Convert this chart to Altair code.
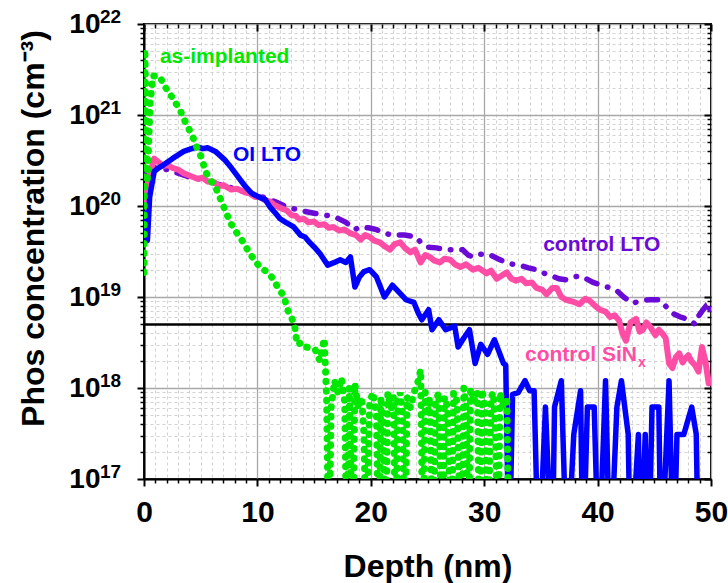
import altair as alt
import pandas as pd

FONT = "Liberation Sans"

# ---------------- data (depth in nm, concentration as log10 of cm^-3) ----------------
green_x = [0.0, 0.08, 0.3, 0.55, 0.8, 1.4, 1.8, 2.3, 2.8, 3.2, 3.5, 3.9, 4.3, 4.6, 5.0, 5.5, 6.0,
           6.4, 7.0, 7.6, 8.1, 8.5, 9.0, 9.3, 9.8, 10.2, 10.8, 11.4, 11.9, 12.3, 12.7, 13.0, 13.3,
           13.5, 14.0, 14.3, 14.7, 15.1, 15.5, 15.9, 16.1, 16.3, 16.5, 16.8, 17.1, 17.4, 17.7, 17.9,
           18.1, 18.4, 18.6, 18.9, 19.2, 19.4, 19.6, 19.9, 20.2, 20.5, 20.7, 20.9, 21.1, 21.3, 21.5,
           21.8, 22.0, 22.2, 22.4, 22.6, 22.8, 23.0, 23.2, 23.5, 23.8, 24.1, 24.4, 24.6, 24.8, 25.0,
           25.2, 25.5, 25.7, 26.0, 26.3, 26.5, 26.8, 27.1, 27.3, 27.6, 28.0, 28.2, 28.4, 28.6, 28.8,
           29.1, 29.4, 29.6, 29.8, 30.1, 30.3, 30.6, 30.8, 31.0, 31.2, 31.4, 31.7, 32.0, 32.2]
green_log = [19.27, 21.72, 20.3, 21.15, 21.43, 21.42, 21.32, 21.23, 21.13, 21.05, 20.96, 20.86, 20.76,
             20.66, 20.55, 20.36, 20.26, 20.18, 20.0, 19.82, 19.72, 19.65, 19.55, 19.48, 19.4, 19.33,
             19.28, 19.2, 19.08, 19.02, 18.85, 18.78, 18.67, 18.48, 18.5, 18.45, 18.44, 18.42, 18.3,
             18.54, 17.9, 16.0, 17.78, 18.08, 17.95, 18.11, 17.85, 16.0, 18.0, 16.0, 18.04, 17.78,
             17.9, 17.48, 16.0, 17.85, 17.95, 17.7, 16.0, 17.9, 17.6, 16.0, 17.95, 17.78, 17.9, 16.0,
             17.85, 17.95, 17.7, 16.0, 17.9, 17.78, 17.95, 18.04, 18.2, 16.0, 17.95, 17.7, 17.9, 16.0,
             17.85, 17.95, 16.0, 17.9, 17.78, 16.0, 17.95, 17.85, 16.0, 18.0, 17.78, 16.0, 18.0, 17.85,
             17.95, 16.0, 17.98, 17.78, 16.0, 17.9, 17.95, 17.6, 16.0, 17.95, 17.78, 17.9, 16.0]

blue_x = [0.05, 0.3, 0.5, 0.9, 1.3, 1.7, 2.5, 3.5, 4.2, 4.7, 5.2, 5.6, 6.3, 7.1, 7.7, 8.3, 8.9, 9.5,
          10.1, 10.7, 11.1, 11.6, 12.0, 12.5, 13.2, 13.8, 14.2, 14.6, 15.0, 15.5, 16.2, 16.8, 17.3,
          17.8, 18.2, 18.6, 19.0, 19.4, 19.9, 20.5, 21.2, 21.9, 22.5, 23.1, 23.8, 24.2, 24.5, 25.1,
          25.4, 26.0, 26.6, 27.4, 27.7, 28.2, 28.7, 29.2, 29.7, 30.3, 30.9, 31.3, 31.7, 31.9, 32.2,
          32.5, 33.0, 33.6, 34.0, 34.4, 34.8, 35.4, 36.0, 36.2, 36.8, 37.3, 37.9, 38.5, 38.7, 39.1,
          39.7, 40.1, 40.7, 41.1, 41.7, 42.1, 42.7, 42.9, 43.6, 43.8, 44.2, 44.5, 44.8, 45.4, 45.6,
          46.3, 46.7, 47.0, 47.6, 48.3, 48.7, 48.9]
blue_log = [19.95, 19.62, 20.1, 20.38, 20.42, 20.45, 20.52, 20.6, 20.63, 20.65, 20.63, 20.64, 20.6,
            20.51, 20.42, 20.32, 20.22, 20.14, 20.1, 20.07, 19.99, 19.92, 19.86, 19.82, 19.77, 19.68,
            19.66, 19.6, 19.55, 19.48, 19.35, 19.38, 19.41, 19.38, 19.44, 19.11, 19.22, 19.28, 19.3,
            19.22, 19.0, 19.13, 19.05, 18.97, 18.94, 18.82, 18.75, 18.86, 18.64, 18.75, 18.64, 18.68,
            18.45, 18.55, 18.64, 18.27, 18.48, 18.37, 18.53, 18.4, 18.27, 18.25, 16.0, 17.93, 17.95,
            18.08, 17.97, 17.97, 16.0, 17.79, 16.0, 17.79, 18.08, 16.0, 17.49, 17.97, 16.0, 17.79,
            17.79, 16.0, 18.08, 16.0, 17.79, 18.08, 17.49, 16.0, 17.49, 16.0, 17.49, 16.0, 17.79,
            17.79, 16.0, 18.08, 16.0, 17.49, 17.49, 17.79, 17.49, 16.0]

pink_x = [0.0, 0.4, 0.9, 1.3, 1.7, 2.1, 2.5, 3.0, 3.5, 4.1, 4.7, 5.2, 5.6, 6.2, 6.6, 7.0, 7.7, 8.2,
          8.9, 9.3, 9.8, 10.2, 10.7, 11.1, 11.5, 12.2, 12.6, 13.0, 13.4, 13.7, 14.1, 14.5, 15.0,
          15.4, 15.9, 16.3, 16.7, 17.2, 17.7, 18.2, 18.7, 19.1, 19.5, 19.9, 20.3, 20.8, 21.2, 21.7,
          22.1, 22.6, 23.0, 23.5, 23.9, 24.4, 24.8, 25.2, 25.6, 26.1, 26.5, 27.0, 27.4, 27.9, 28.4,
          29.0, 29.5, 30.2, 30.6, 31.1, 31.6, 32.0, 32.4, 32.8, 33.3, 33.7, 34.2, 34.6, 35.1, 35.5,
          36.0, 36.4, 36.8, 37.2, 37.8, 38.4, 38.9, 39.3, 39.8, 40.2, 40.7, 41.1, 41.5, 41.9, 42.2,
          42.5, 42.9, 43.4, 43.7, 44.0, 44.3, 44.6, 45.1, 45.4, 45.7, 46.0, 46.3, 46.6, 46.9, 47.2,
          47.5, 47.7, 48.0, 48.3, 48.6, 48.9, 49.2, 49.5, 49.8, 50.0]
pink_log = [20.0, 20.3, 20.52, 20.48, 20.44, 20.45, 20.42, 20.4, 20.36, 20.33, 20.3, 20.31, 20.27,
            20.26, 20.22, 20.23, 20.18, 20.19, 20.15, 20.14, 20.1, 20.1, 20.06, 20.05, 20.01, 19.97,
            19.95, 19.9, 19.89, 19.85, 19.86, 19.82, 19.83, 19.79, 19.8, 19.76, 19.77, 19.73, 19.74,
            19.7, 19.68, 19.63, 19.68, 19.66, 19.62, 19.6, 19.56, 19.52, 19.58, 19.6, 19.54, 19.49,
            19.52, 19.38, 19.46, 19.44, 19.4, 19.38, 19.42, 19.41, 19.36, 19.33, 19.36, 19.3, 19.32,
            19.26, 19.29, 19.2, 19.24, 19.27, 19.2, 19.18, 19.2, 19.15, 19.16, 19.1, 19.08, 19.03,
            19.1, 19.1, 19.0, 18.97, 18.95, 18.92, 18.98, 18.96, 18.9, 18.86, 18.84, 18.78, 18.8,
            18.74, 18.6, 18.52, 18.72, 18.76, 18.62, 18.64, 18.72, 18.68, 18.58, 18.64, 18.6, 18.55,
            18.27, 18.22, 18.34, 18.38, 18.28, 18.32, 18.36, 18.29, 18.25, 18.18, 18.45, 18.3, 18.05,
            18.1]

purple_x = [0.2, 1.0, 2.0, 3.0, 4.0, 5.5, 6.5, 7.7, 9.0, 10.7, 11.7, 12.6, 13.8, 15.0, 16.0, 17.0,
            17.8, 18.6, 19.0, 19.8, 20.5, 21.2, 21.9, 23.0, 24.0, 24.4, 24.9, 25.8, 26.6, 27.4, 28.1,
            28.6, 29.0, 29.6, 30.4, 31.2, 31.9, 32.5, 33.1, 33.9, 34.6, 35.3, 36.0, 36.6, 37.2, 37.8,
            38.4, 39.0, 39.6, 40.6, 41.6, 42.3, 43.1, 43.8, 44.6, 45.5, 46.0, 46.6, 47.3, 48.1, 48.6,
            48.9, 49.3, 49.5, 49.8, 50.0]
purple_log = [20.35, 20.42, 20.4, 20.36, 20.32, 20.28, 20.24, 20.2, 20.15, 20.09, 20.04, 19.99, 19.95,
              19.92, 19.9, 19.87, 19.82, 19.74, 19.77, 19.76, 19.74, 19.7, 19.68, 19.68, 19.66, 19.6,
              19.55, 19.54, 19.52, 19.52, 19.52, 19.46, 19.44, 19.47, 19.47, 19.42, 19.38, 19.36,
              19.35, 19.32, 19.3, 19.26, 19.23, 19.2, 19.19, 19.22, 19.23, 19.2, 19.16, 19.12, 19.08,
              19.0, 18.93, 18.96, 18.97, 18.97, 18.9, 18.82, 18.78, 18.75, 18.7, 18.79, 18.86, 18.89,
              18.82, 18.9]

threshold = [5e18]

ann_text = ["as-implanted", "OI LTO", "control LTO", "control SiN"]
ann_x = [1.4, 7.85, 35.2, 33.6]
ann_y = [4.3e21, 3.6e20, 3.7e19, 2.3e18]
ann_color = ["#00E800", "#0000FF", "#6A0AD6", "#FF4DA6"]

sub_text = ["x"]
sub_x = [33.6]
sub_y = [2.3e18]

major_x = [0, 10, 20, 30, 40, 50]
minor_x = [i for i in range(1, 50) if i % 10]
exps = [17, 18, 19, 20, 21, 22]
major_y = [10.0 ** e for e in exps]
minor_y = [m * 10.0 ** e for e in range(17, 22) for m in range(2, 10)]

C_GREEN, C_BLUE, C_PINK, C_PURPLE = "#00E800", "#0000FF", "#FF4DA6", "#6A0AD6"


def series(xs, logs):
    return pd.DataFrame({"depth": xs, "conc": [10.0 ** v for v in logs]})


xscale = alt.Scale(domain=[0, 50], nice=False, zero=False)
yscale = alt.Scale(type="log", domain=[1e17, 1e22], nice=False)

# ---------------- axes ----------------
ax_x_main = alt.Axis(orient="bottom", values=major_x, format="d", tickSize=7, tickWidth=2,
                     tickColor="black", domain=True, domainColor="black", domainWidth=2,
                     labelFont=FONT, labelFontSize=30, labelFontWeight="bold", labelColor="black",
                     labelPadding=11, labelFlush=False, grid=True, gridColor="#a8a8a8", gridWidth=1.3,
                     title="Depth (nm)", titleFont=FONT, titleFontSize=32, titleFontWeight="bold",
                     titleColor="black", titleY=87, titleBaseline="middle")
ax_y_main = alt.Axis(orient="left", values=major_y, labelExpr="'10'", tickSize=7, tickWidth=2,
                     tickColor="black", domain=True, domainColor="black", domainWidth=2,
                     labelFont=FONT, labelFontSize=28, labelFontWeight="bold", labelColor="black",
                     labelPadding=37, grid=True, gridColor="#a8a8a8", gridWidth=1.3,
                     title="Phos concentration (cm⁻³)", titleFont=FONT, titleFontSize=32,
                     titleFontWeight="bold", titleColor="black", titleX=-111, titleY=204,
                     titleAngle=270, titleAlign="center", titleBaseline="middle")
ax_x_minor = alt.Axis(orient="bottom", values=minor_x, tickSize=4, tickWidth=1.5, tickColor="black",
                      labels=False, domain=False, grid=True, gridColor="#d2d2d2", gridDash=[3, 3],
                      gridWidth=1, title="")
ax_y_minor = alt.Axis(orient="left", values=minor_y, tickSize=4, tickWidth=1.5, tickColor="black",
                      labels=False, domain=False, grid=True, gridColor="#d2d2d2", gridDash=[3, 3],
                      gridWidth=1, title="")
ax_x_top_major = alt.Axis(orient="top", offset=-7, values=major_x, tickSize=7, tickWidth=2,
                          tickColor="black", labels=False, domain=False, grid=False, title="")
ax_y_right_major = alt.Axis(orient="right", offset=-7, values=major_y, tickSize=7, tickWidth=2,
                            tickColor="black", labels=False, domain=False, grid=False, title="")
ax_x_top_minor = alt.Axis(orient="top", offset=-4, values=minor_x, tickSize=4, tickWidth=1.5,
                          tickColor="black", labels=False, domain=False, grid=False, title="")
ax_y_right_minor = alt.Axis(orient="right", offset=-4, values=minor_y, tickSize=4, tickWidth=1.5,
                            tickColor="black", labels=False, domain=False, grid=False, title="")

# ---------------- layers ----------------
hline = alt.Chart(pd.DataFrame({"y": threshold})).mark_rule(color="black", strokeWidth=2.5).encode(
    y=alt.Y("y:Q", scale=yscale, axis=None))

purple = alt.Chart(series(purple_x, purple_log)).mark_line(
    color=C_PURPLE, strokeWidth=5.5, strokeDash=[11, 11, 0.5, 11], strokeCap="round",
    clip=True).encode(
    x=alt.X("depth:Q", scale=xscale, axis=ax_x_main),
    y=alt.Y("conc:Q", scale=yscale, axis=ax_y_main), order="depth:Q")

pink = alt.Chart(series(pink_x, pink_log)).mark_line(
    color=C_PINK, strokeWidth=6, strokeJoin="round", clip=True).encode(
    x=alt.X("depth:Q", scale=xscale, axis=ax_x_minor),
    y=alt.Y("conc:Q", scale=yscale, axis=ax_y_minor), order="depth:Q")

blue = alt.Chart(series(blue_x, blue_log)).mark_line(
    color=C_BLUE, strokeWidth=5.5, strokeJoin="round", clip=True).encode(
    x=alt.X("depth:Q", scale=xscale, axis=ax_x_top_major),
    y=alt.Y("conc:Q", scale=yscale, axis=ax_y_right_major), order="depth:Q")

green = alt.Chart(series(green_x, green_log)).mark_line(
    color=C_GREEN, strokeWidth=7, strokeDash=[0.5, 9], strokeCap="round", clip=True).encode(
    x=alt.X("depth:Q", scale=xscale, axis=ax_x_top_minor),
    y=alt.Y("conc:Q", scale=yscale, axis=ax_y_right_minor), order="depth:Q")

ann = alt.Chart(pd.DataFrame({"t": ann_text, "x": ann_x, "y": ann_y, "c": ann_color})).mark_text(
    align="left", baseline="middle", font=FONT, fontSize=21, fontWeight="bold").encode(
    x=alt.X("x:Q", scale=xscale, axis=None), y=alt.Y("y:Q", scale=yscale, axis=None),
    text="t:N", color=alt.Color("c:N", scale=None))

sub = alt.Chart(pd.DataFrame({"t": sub_text, "x": sub_x, "y": sub_y})).mark_text(
    align="left", baseline="middle", font=FONT, fontSize=14, fontWeight="bold", color=C_PINK,
    dx=113, dy=8).encode(
    x=alt.X("x:Q", scale=xscale, axis=None), y=alt.Y("y:Q", scale=yscale, axis=None), text="t:N")

exp_df = pd.DataFrame({"v": major_y, "e": [str(e) for e in exps]})
expo = alt.Chart(exp_df).mark_text(
    align="left", baseline="alphabetic", font=FONT, fontSize=19, fontWeight="bold",
    color="black", dy=-1).encode(
    x=alt.value(-44), y=alt.Y("v:Q", scale=yscale, axis=None), text="e:N")

chart = alt.layer(hline, purple, pink, blue, green, ann, sub, expo).resolve_axis(
    x="independent", y="independent").properties(
    width=567, height=455,
    autosize=alt.AutoSizeParams(type="none"),
    padding={"left": 144, "top": 24, "right": 17, "bottom": 104},
    background="white",
).configure_view(stroke="black", strokeWidth=2)

chart.save("out.html", embed_options={"renderer": "svg", "actions": False})
